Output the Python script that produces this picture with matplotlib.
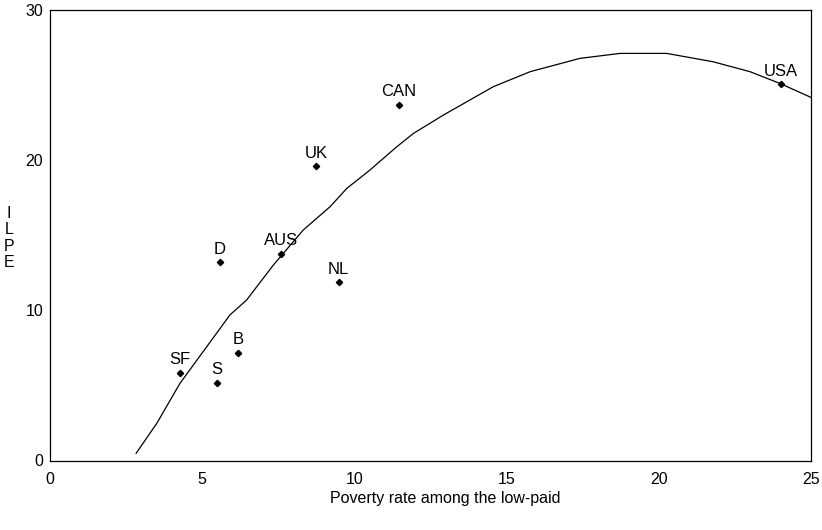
import matplotlib
matplotlib.use("Agg")
import matplotlib.pyplot as plt

plt.rcParams['font.family'] = ['Liberation Sans', 'DejaVu Sans']

countries = ['USA', 'CAN', 'UK', 'D', 'AUS', 'NL', 'B', 'SF', 'S']
poverty = [24.0, 11.47, 8.74, 5.58, 7.59, 9.48, 6.19, 4.26, 5.49]
ilpe = [25.05, 23.7, 19.6, 13.2, 13.75, 11.86, 7.16, 5.85, 5.16]

# fitted curve
curve_x = [2.83, 3.51, 4.27, 5.15, 5.91, 6.46, 7.34, 8.32, 9.20, 9.75, 10.51,
           11.39, 11.94, 12.92, 14.56, 15.77, 17.41, 18.73, 20.26, 21.79,
           23.00, 23.98, 25.0]
curve_y = [0.48, 2.48, 5.14, 7.58, 9.69, 10.69, 13.02, 15.35, 16.90, 18.12,
           19.34, 20.89, 21.78, 23.00, 24.89, 25.89, 26.78, 27.11, 27.11,
           26.55, 25.89, 25.11, 24.18]

xticks = [0, 5, 10, 15, 20, 25]
yticks = [0, 10, 20, 30]

fig = plt.figure(figsize=(8.22, 5.30), dpi=100)
ax = fig.add_axes([50/822, 69.5/530, 761/822, 450.5/530])

ax.plot(curve_x, curve_y, color='black', lw=0.9, clip_on=False)
ax.plot(poverty, ilpe, linestyle='none', marker='D', markersize=3.2,
        color='black')
for name, x, y in zip(countries, poverty, ilpe):
    ax.annotate(name, (x, y), xytext=(0, 4), textcoords='offset points',
                ha='center', va='bottom', fontsize=12)

ax.set_xlim(0, 25)
ax.set_ylim(0, 30)
ax.set_xticks(xticks)
ax.set_yticks(yticks)
ax.tick_params(length=0, labelsize=11.5)
ax.tick_params(axis='x', pad=8.5)
ax.tick_params(axis='y', pad=5)
for s in ax.spines.values():
    s.set_linewidth(0.9)

fig.text(9/822, 1 - 238/530, 'I\nL\nP\nE', ha='center', va='center',
         fontsize=11.5, linespacing=1.1)
fig.text(445/822, 1 - 499/530, 'Poverty rate among the low-paid',
         ha='center', va='center', fontsize=11.5)

fig.savefig('out.png', dpi=100)
